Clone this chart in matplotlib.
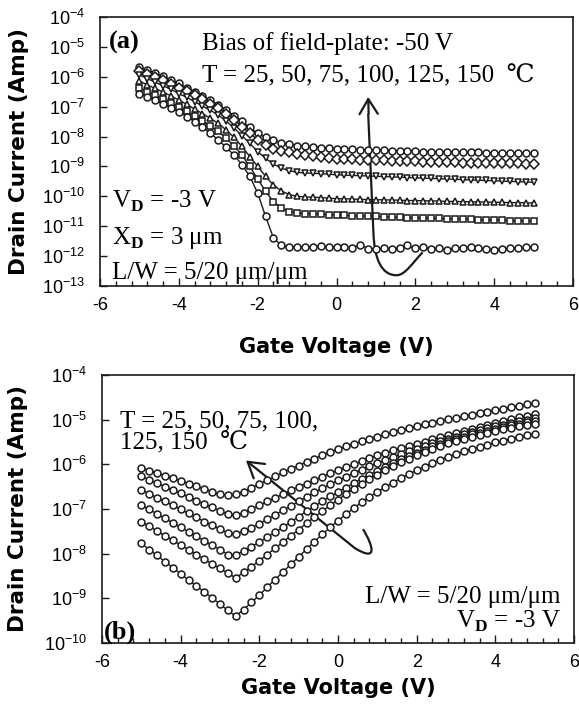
import matplotlib
matplotlib.use("Agg")
import matplotlib.pyplot as plt
import numpy as np
from matplotlib.path import Path
from matplotlib.patches import PathPatch
from matplotlib.ticker import MultipleLocator, NullLocator

plt.rcParams["font.family"] = "Liberation Sans"
plt.rcParams["axes.unicode_minus"] = False
plt.rcParams["mathtext.fontset"] = "custom"
plt.rcParams["mathtext.rm"] = "Liberation Serif"
plt.rcParams["mathtext.bf"] = "Liberation Serif:bold"

# gate voltage sweep, -5 V .. 5 V in 0.2 V steps
gate_v = np.linspace(-5, 5, 51)

# (a) field-plate bias -50 V, log10 of drain current, 150 C first
top_150 = [-5.67, -5.77, -5.88, -5.99, -6.10, -6.22, -6.36, -6.50, -6.64, -6.79, -6.94,
           -7.12, -7.30, -7.48, -7.69, -7.89, -8.03, -8.13, -8.20, -8.26, -8.30,
           -8.32, -8.34, -8.37, -8.39, -8.41, -8.42, -8.43, -8.44, -8.45, -8.46,
           -8.46, -8.47, -8.48, -8.48, -8.49, -8.50, -8.50, -8.51, -8.51, -8.52,
           -8.52, -8.53, -8.53, -8.54, -8.54, -8.55, -8.55, -8.56, -8.56, -8.56]
top_125 = [-5.81, -5.91, -6.01, -6.12, -6.23, -6.36, -6.49, -6.62, -6.76, -6.90, -7.06,
           -7.24, -7.44, -7.67, -7.89, -8.11, -8.28, -8.40, -8.48, -8.53, -8.58,
           -8.61, -8.64, -8.68, -8.71, -8.74, -8.75, -8.76, -8.77, -8.78, -8.79,
           -8.80, -8.81, -8.81, -8.82, -8.83, -8.84, -8.84, -8.85, -8.86, -8.86,
           -8.87, -8.87, -8.88, -8.88, -8.89, -8.89, -8.90, -8.90, -8.91, -8.91]
top_100 = [-5.94, -6.06, -6.18, -6.30, -6.42, -6.56, -6.69, -6.83, -6.98, -7.12, -7.28,
           -7.48, -7.71, -7.97, -8.23, -8.50, -8.73, -8.92, -9.06, -9.14, -9.20,
           -9.22, -9.23, -9.24, -9.26, -9.28, -9.29, -9.30, -9.31, -9.32, -9.33,
           -9.34, -9.35, -9.36, -9.37, -9.38, -9.39, -9.40, -9.41, -9.42, -9.43,
           -9.44, -9.45, -9.46, -9.47, -9.48, -9.49, -9.50, -9.51, -9.52, -9.53]
top_75 = [-6.14, -6.27, -6.39, -6.51, -6.64, -6.78, -6.92, -7.08, -7.23, -7.39, -7.56,
          -7.78, -8.03, -8.33, -8.67, -9.00, -9.33, -9.62, -9.82, -9.94, -10.00,
          -10.02, -10.03, -10.04, -10.06, -10.08, -10.08, -10.09, -10.10, -10.11, -10.11,
          -10.12, -10.12, -10.13, -10.14, -10.14, -10.15, -10.15, -10.16, -10.17, -10.17,
          -10.18, -10.18, -10.19, -10.19, -10.20, -10.20, -10.21, -10.21, -10.22, -10.22]
top_50 = [-6.39, -6.50, -6.62, -6.74, -6.87, -7.00, -7.16, -7.31, -7.48, -7.66, -7.83,
          -8.06, -8.31, -8.62, -9.00, -9.42, -9.83, -10.18, -10.40, -10.51, -10.56,
          -10.58, -10.59, -10.60, -10.61, -10.63, -10.64, -10.65, -10.66, -10.66, -10.67,
          -10.68, -10.69, -10.70, -10.71, -10.71, -10.72, -10.73, -10.74, -10.75, -10.76,
          -10.77, -10.77, -10.78, -10.79, -10.80, -10.80, -10.81, -10.82, -10.82, -10.83]
top_25 = [-6.56, -6.67, -6.79, -6.91, -7.03, -7.17, -7.33, -7.50, -7.69, -7.89, -8.11,
          -8.36, -8.62, -8.94, -9.33, -9.89, -10.67, -11.39, -11.64, -11.69, -11.70,
          -11.68, -11.69, -11.67, -11.70, -11.69, -11.71, -11.72, -11.62, -11.75, -11.76,
          -11.74, -11.75, -11.73, -11.64, -11.74, -11.70, -11.76, -11.73, -11.78, -11.74,
          -11.72, -11.70, -11.74, -11.76, -11.80, -11.75, -11.74, -11.73, -11.71, -11.70]

# (b) no field-plate bias, log10 of drain current, 150 C first
bot_150 = [-6.08, -6.14, -6.19, -6.25, -6.31, -6.37, -6.43, -6.49, -6.55, -6.61, -6.66,
           -6.69, -6.67, -6.61, -6.53, -6.44, -6.36, -6.27, -6.18, -6.10, -6.03,
           -5.94, -5.87, -5.80, -5.72, -5.66, -5.60, -5.54, -5.48, -5.43, -5.38,
           -5.33, -5.28, -5.24, -5.19, -5.14, -5.10, -5.07, -5.03, -4.99, -4.96,
           -4.92, -4.89, -4.85, -4.82, -4.79, -4.76, -4.72, -4.69, -4.66, -4.63]
bot_125 = [-6.27, -6.34, -6.42, -6.50, -6.58, -6.65, -6.73, -6.81, -6.89, -6.96, -7.04,
           -7.12, -7.14, -7.08, -7.00, -6.92, -6.83, -6.75, -6.67, -6.58, -6.50,
           -6.43, -6.35, -6.28, -6.20, -6.13, -6.06, -6.00, -5.93, -5.86, -5.80,
           -5.75, -5.69, -5.64, -5.59, -5.54, -5.49, -5.44, -5.39, -5.35, -5.30,
           -5.25, -5.20, -5.16, -5.11, -5.07, -5.02, -4.99, -4.95, -4.91, -4.88]
bot_100 = [-6.57, -6.66, -6.75, -6.83, -6.92, -7.01, -7.10, -7.19, -7.28, -7.36, -7.45,
           -7.54, -7.55, -7.50, -7.42, -7.33, -7.23, -7.13, -7.03, -6.93, -6.83,
           -6.73, -6.63, -6.54, -6.45, -6.36, -6.28, -6.20, -6.12, -6.04, -5.97,
           -5.90, -5.83, -5.77, -5.71, -5.65, -5.59, -5.53, -5.48, -5.43, -5.38,
           -5.33, -5.28, -5.23, -5.19, -5.15, -5.11, -5.07, -5.03, -5.00, -4.96]
bot_75 = [-6.91, -7.01, -7.11, -7.21, -7.31, -7.41, -7.51, -7.61, -7.71, -7.81, -7.91,
          -8.02, -8.03, -7.94, -7.84, -7.74, -7.63, -7.52, -7.41, -7.29, -7.17,
          -7.05, -6.94, -6.83, -6.72, -6.62, -6.52, -6.42, -6.32, -6.23, -6.14,
          -6.05, -5.97, -5.89, -5.81, -5.74, -5.67, -5.60, -5.54, -5.48, -5.43,
          -5.38, -5.33, -5.29, -5.25, -5.21, -5.17, -5.13, -5.10, -5.06, -5.03]
bot_50 = [-7.28, -7.39, -7.49, -7.60, -7.70, -7.81, -7.91, -8.02, -8.12, -8.23, -8.33,
          -8.44, -8.54, -8.42, -8.29, -8.16, -8.02, -7.88, -7.74, -7.60, -7.46,
          -7.32, -7.18, -7.05, -6.92, -6.79, -6.67, -6.55, -6.44, -6.33, -6.23,
          -6.13, -6.04, -5.95, -5.87, -5.79, -5.72, -5.65, -5.59, -5.53, -5.48,
          -5.43, -5.38, -5.34, -5.30, -5.26, -5.22, -5.18, -5.15, -5.12, -5.09]
bot_25 = [-7.77, -7.91, -8.04, -8.18, -8.31, -8.45, -8.59, -8.72, -8.86, -8.99, -9.13,
          -9.27, -9.40, -9.25, -9.09, -8.93, -8.75, -8.58, -8.41, -8.24, -8.07,
          -7.90, -7.73, -7.57, -7.41, -7.26, -7.12, -6.98, -6.85, -6.73, -6.62,
          -6.51, -6.41, -6.31, -6.22, -6.13, -6.05, -5.97, -5.90, -5.83, -5.77,
          -5.71, -5.66, -5.61, -5.56, -5.51, -5.47, -5.43, -5.39, -5.35, -5.32]

top_curves = [top_150, top_125, top_100, top_75, top_50, top_25]
top_markers = ["o", "D", "v", "^", "s", "o"]
bot_curves = [bot_150, bot_125, bot_100, bot_75, bot_50, bot_25]

SERIF = ["Liberation Serif", "DejaVu Serif", "DejaVu Sans"]
LABEL_FONT = "DejaVu Sans"
INK = "#1a1a1a"
NOTE = 18


def style_axes(ax, lowest):
    ax.set_xlim(-6, 6)
    ax.set_yscale("log")
    ax.set_ylim(10.0 ** lowest, 1e-4)
    exps = np.arange(lowest, -3)
    ax.set_yticks(10.0 ** exps)
    ax.set_yticklabels([r"$\mathregular{10^{%d}}$" % e for e in exps])
    ax.yaxis.set_minor_locator(NullLocator())
    ax.xaxis.set_major_locator(MultipleLocator(2))
    ax.xaxis.set_minor_locator(MultipleLocator(0.4))
    ax.tick_params(axis="both", which="both", direction="in", top=False, right=False,
                   labelsize=13, width=1.0, color=INK)
    ax.tick_params(axis="x", which="major", length=6, pad=8)
    ax.tick_params(axis="x", which="minor", length=3.5)
    ax.tick_params(axis="y", which="major", length=5, pad=11)
    for sp in ax.spines.values():
        sp.set_linewidth(1.2)
        sp.set_color(INK)
    ax.set_xlabel("Gate Voltage (V)", fontsize=15, fontweight="bold", family=LABEL_FONT)
    ax.set_ylabel("Drain Current (Amp)", fontsize=15.5, fontweight="bold", family=LABEL_FONT)


def draw_curves(ax, curves, markers):
    for vals, mk in zip(curves, markers):
        ax.plot(gate_v, 10.0 ** np.array(vals), color=INK, lw=1.0, marker=mk,
                markersize=5.0, markerfacecolor="white", markeredgecolor=INK,
                markeredgewidth=1.1)


def draw_hook_arrow(ax, verts, codes, tip, tail):
    ax.add_patch(PathPatch(Path(verts, codes), transform=ax.transAxes, fill=False,
                           lw=1.6, edgecolor=INK))
    ax.annotate("", xy=tip, xytext=tail, xycoords="axes fraction",
                textcoords="axes fraction",
                arrowprops=dict(arrowstyle="->,head_length=0.9,head_width=0.55",
                                lw=1.6, color=INK, mutation_scale=12,
                                shrinkA=0, shrinkB=0))


fig = plt.figure(figsize=(5.79, 7.04), dpi=100)
ax1 = fig.add_axes([100 / 579, 1 - 286 / 704, 473 / 579, 269 / 704])
ax2 = fig.add_axes([102 / 579, 1 - 643 / 704, 472 / 579, 268 / 704])

# ---- panel (a)
draw_curves(ax1, top_curves, top_markers)
style_axes(ax1, -13)
ax1.xaxis.set_label_coords(0.5, -0.19)
ax1.yaxis.set_label_coords(-0.150, 0.5)

ax1.text(0.018, 0.905, "(a)", transform=ax1.transAxes, fontsize=19, fontweight="bold",
         family=SERIF, va="center")
ax1.text(0.215, 0.877, "Bias of field-plate: -50 V", transform=ax1.transAxes,
         fontsize=NOTE, family=SERIF)
ax1.text(0.215, 0.757, "T = 25, 50, 75, 100, 125, 150  \u2103", transform=ax1.transAxes,
         fontsize=NOTE, family=SERIF)
ax1.text(0.025, 0.29, r"V$_{\mathbf{D}}$ = -3 V", transform=ax1.transAxes,
         fontsize=NOTE, family=SERIF)
ax1.text(0.025, 0.155, "X$_{\\mathbf{D}}$ = 3 \u03bcm", transform=ax1.transAxes,
         fontsize=NOTE, family=SERIF)
ax1.text(0.025, 0.027, "L/W = 5/20 \u03bcm/\u03bcm", transform=ax1.transAxes,
         fontsize=NOTE, family=SERIF)

top_arrow = [(0.682, 0.125), (0.660, 0.085), (0.645, 0.040), (0.627, 0.040),
             (0.595, 0.040), (0.580, 0.100), (0.578, 0.200), (0.567, 0.640)]
top_codes = [Path.MOVETO, Path.CURVE4, Path.CURVE4, Path.CURVE4,
             Path.CURVE4, Path.CURVE4, Path.CURVE4, Path.LINETO]
draw_hook_arrow(ax1, top_arrow, top_codes, (0.567, 0.703), (0.568, 0.64))

# ---- panel (b)
draw_curves(ax2, bot_curves, ["o"] * 6)
style_axes(ax2, -10)
ax2.xaxis.set_label_coords(0.5, -0.13)
ax2.yaxis.set_label_coords(-0.156, 0.5)

ax2.text(0.005, 0.018, "(b)", transform=ax2.transAxes, fontsize=19, fontweight="bold",
         family=SERIF)
ax2.text(0.039, 0.868, "T = 25, 50, 75, 100,\n125, 150  \u2103", transform=ax2.transAxes,
         fontsize=NOTE, family=SERIF, va="top", linespacing=1.0)
ax2.text(0.972, 0.035, "L/W = 5/20 \u03bcm/\u03bcm\nV$_{\\mathbf{D}}$ = -3 V",
         transform=ax2.transAxes, fontsize=NOTE, family=SERIF, ha="right",
         va="bottom", multialignment="right", linespacing=1.0)

bot_arrow = [(0.553, 0.425), (0.575, 0.360), (0.585, 0.300), (0.535, 0.355),
             (0.330, 0.646)]
bot_codes = [Path.MOVETO, Path.CURVE4, Path.CURVE4, Path.CURVE4, Path.LINETO]
draw_hook_arrow(ax2, bot_arrow, bot_codes, (0.305, 0.681), (0.33, 0.646))

fig.savefig("out.png", dpi=100, facecolor="white")
